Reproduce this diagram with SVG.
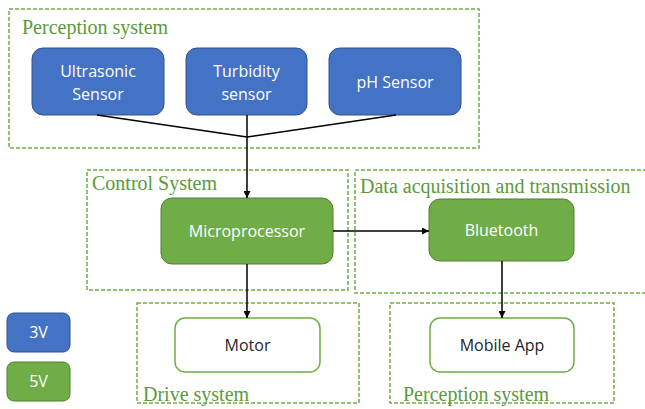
<svg xmlns="http://www.w3.org/2000/svg" width="645" height="409" viewBox="0 0 645 409">
<defs>
<marker id="ah" viewBox="0 0 10 10" refX="10" refY="5" markerWidth="7" markerHeight="7" markerUnits="userSpaceOnUse" orient="auto">
<path d="M0,0 L10,5 L0,10 z" fill="#000"/>
</marker>
<style>
.grp{fill:none;stroke:#70AD47;stroke-width:1.5;stroke-dasharray:4 2}
.gt{font-family:"Liberation Serif","Times New Roman",serif;font-size:20px;fill:#5B9A3B}
.blue{fill:#4472C4;stroke:#2F528F;stroke-width:1}
.green{fill:#70AD47;stroke:#507E32;stroke-width:1}
.white{fill:#fff;stroke:#70AD47;stroke-width:1.5}
.lt{font-family:"Open Sans","Noto Sans",sans-serif;font-size:16px;fill:#fff;text-anchor:middle}
.dt{font-family:"Open Sans","Noto Sans",sans-serif;font-size:16px;fill:#262626;text-anchor:middle}
.con{stroke:#000;stroke-width:1.5;fill:none}
</style>
</defs>
<g id="groups">
<rect class="grp" x="9" y="9" width="470" height="139"/>
<text class="gt" x="22" y="34">Perception system</text>
<rect class="grp" x="87" y="170" width="261" height="120"/>
<text class="gt" x="92" y="190">Control System</text>
<rect class="grp" x="355" y="170" width="300" height="123"/>
<text class="gt" x="360" y="193">Data acquisition and transmission</text>
<rect class="grp" x="137" y="303" width="222" height="100"/>
<text class="gt" x="143" y="401">Drive system</text>
<rect class="grp" x="390" y="303" width="224" height="100"/>
<text class="gt" x="403" y="401">Perception system</text>
</g>
<g id="ultrasonic">
<rect class="blue" x="32" y="48" width="132" height="67" rx="11"/>
<text class="lt" x="98" y="77">Ultrasonic</text>
<text class="lt" x="98" y="100">Sensor</text>
</g>
<g id="turbidity">
<rect class="blue" x="186" y="48" width="121" height="67" rx="11"/>
<text class="lt" x="246.5" y="77">Turbidity</text>
<text class="lt" x="246.5" y="100">sensor</text>
</g>
<g id="ph">
<rect class="blue" x="329" y="48" width="132" height="67" rx="11"/>
<text class="lt" x="395" y="88">pH Sensor</text>
</g>
<g id="microprocessor">
<rect class="green" x="161" y="198" width="172" height="66" rx="11"/>
<text class="lt" x="247" y="237">Microprocessor</text>
</g>
<g id="bluetooth">
<rect class="green" x="429" y="199" width="145" height="62" rx="11"/>
<text class="lt" x="501.5" y="236">Bluetooth</text>
</g>
<g id="motor">
<rect class="white" x="175" y="318" width="145" height="54" rx="10"/>
<text class="dt" x="247.5" y="351">Motor</text>
</g>
<g id="mobileapp">
<rect class="white" x="430" y="318" width="144" height="54" rx="10"/>
<text class="dt" x="502" y="351">Mobile App</text>
</g>
<g id="legend3v">
<rect class="blue" x="7" y="313" width="63" height="39" rx="7"/>
<text class="lt" x="38.5" y="338">3V</text>
</g>
<g id="legend5v">
<rect class="green" x="7" y="362" width="63" height="39" rx="7"/>
<text class="lt" x="38.5" y="387">5V</text>
</g>
<g id="connectors">
<line class="con" x1="97" y1="115" x2="247" y2="137"/>
<line class="con" x1="396" y1="115" x2="247" y2="137"/>
<line class="con" x1="247" y1="115" x2="247" y2="198" marker-end="url(#ah)"/>
<line class="con" x1="333" y1="231" x2="429" y2="231" marker-end="url(#ah)"/>
<line class="con" x1="247" y1="264" x2="247" y2="318" marker-end="url(#ah)"/>
<line class="con" x1="502" y1="261" x2="502" y2="318" marker-end="url(#ah)"/>
</g>
</svg>
